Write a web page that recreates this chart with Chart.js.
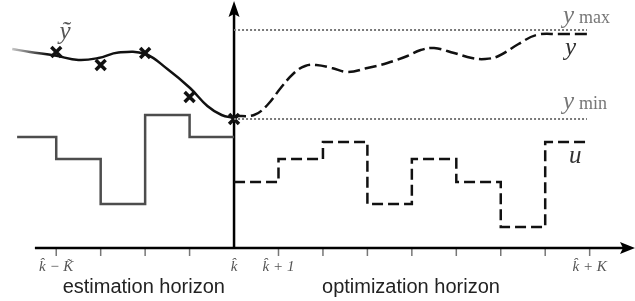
<!DOCTYPE html>
<html>
<head>
<meta charset="utf-8">
<script src="https://cdn.jsdelivr.net/npm/chart.js@4.4.1/dist/chart.umd.min.js"></script>
<style>
  html, body { margin: 0; padding: 0; background: #fff; }
  #mheChart { display: block; }
</style>
</head>
<body>
<canvas id="mheChart" width="635" height="301"></canvas>
<script>
// time steps on the horizontal axis (0 = current step k)
const xTicks = [-4, -3, -2, -1, 0, 1, 2, 3, 4, 5, 6, 7, 8];
const tickLabels = ["k\u0302 \u2212 K\u0303", "", "", "", "k\u0302", "k\u0302 + 1", "", "", "", "", "", "", "k\u0302 + K"];

// estimated output (solid curve) over the estimation horizon
const pastX = [-4.99, -4.59, -4.03, -3.5, -3.05, -2.6, -2.0, -1.5, -0.99, -0.6, -0.28, 0];
const pastY = [19.9, 19.6, 19.25, 18.8, 19.0, 19.55, 19.4, 17.9, 16.0, 14.2, 13.3, 13.0];

// measurements y~
const measX = [-4, -3, -2, -1, 0];
const measY = [19.6, 18.3, 19.5, 15.1, 12.9];

// predicted output (dashed curve) over the optimization horizon
const predX = [0, 0.45, 0.75, 1.05, 1.35, 1.6, 1.85, 2.2, 2.55, 3.0, 3.45, 3.9, 4.2, 4.5, 4.95, 5.35, 5.65, 5.95, 6.4, 6.8, 7.3, 7.94];
const predY = [13.2, 13.3, 14.3, 16.0, 17.5, 18.2, 18.3, 18.0, 17.6, 18.0, 18.5, 19.2, 19.8, 20.0, 19.5, 19.0, 18.9, 19.2, 20.4, 21.3, 21.4, 21.4];

// input u: past (applied) and planned
const uPastX = [-4.88, -4, -3, -2, -1, 0];
const uPastVal = [11.1, 8.9, 4.4, 13.3, 11.1, 11.1];
const uPlanX = [0, 1, 2, 3, 4, 5, 6, 7, 8];
const uPlanVal = [6.6, 8.9, 10.6, 4.4, 8.9, 6.6, 2.1, 10.6, 10.6];

// output bounds
const yMax = 21.8;
const yMin = 12.9;
const boundX = [0, 7.94];

function toPoints(xs, ys) {
  return xs.map((x, i) => ({ x: x, y: ys[i] }));
}

const axesPlugin = {
  id: "axesPlugin",
  beforeDatasetsDraw(chart) {
    const ctx = chart.ctx;
    const xs = chart.scales.x;
    const ys = chart.scales.y;
    const x0 = xs.getPixelForValue(0);
    const y0 = ys.getPixelForValue(0);
    const left = xs.getPixelForValue(-4.48);
    const right = xs.right;

    ctx.save();
    // tick marks
    ctx.strokeStyle = "#777";
    ctx.lineWidth = 1.5;
    xTicks.forEach(t => {
      if (t === 0) return;
      const px = xs.getPixelForValue(t);
      ctx.beginPath();
      ctx.moveTo(px, y0);
      ctx.lineTo(px, y0 + 8);
      ctx.stroke();
    });

    // axes lines
    ctx.strokeStyle = "#000";
    ctx.fillStyle = "#000";
    ctx.lineWidth = 2.5;
    ctx.beginPath();
    ctx.moveTo(left, y0);
    ctx.lineTo(right - 10, y0);
    ctx.moveTo(x0, y0 + 1);
    ctx.lineTo(x0, ys.top + 12);
    ctx.stroke();

    // arrow heads
    ctx.beginPath();
    ctx.moveTo(right, y0);
    ctx.lineTo(right - 15, y0 - 6);
    ctx.lineTo(right - 12, y0);
    ctx.lineTo(right - 15, y0 + 6);
    ctx.closePath();
    ctx.fill();
    ctx.beginPath();
    ctx.moveTo(x0, ys.top + 1);
    ctx.lineTo(x0 - 5.5, ys.top + 17);
    ctx.lineTo(x0, ys.top + 14);
    ctx.lineTo(x0 + 5.5, ys.top + 17);
    ctx.closePath();
    ctx.fill();
    ctx.restore();
  },
  afterDraw(chart) {
    const ctx = chart.ctx;
    const xs = chart.scales.x;
    const ys = chart.scales.y;
    const y0 = ys.getPixelForValue(0);

    ctx.save();
    ctx.textBaseline = "alphabetic";

    // tick labels
    ctx.fillStyle = "#555";
    ctx.font = "italic 15px 'Liberation Serif', serif";
    ctx.textAlign = "center";
    xTicks.forEach((t, i) => {
      if (tickLabels[i]) {
        ctx.fillText(tickLabels[i], xs.getPixelForValue(t), y0 + 23);
      }
    });

    // horizon captions
    ctx.fillStyle = "#222";
    ctx.font = "20px 'Liberation Sans', Arial, sans-serif";
    ctx.fillText("estimation horizon", xs.getPixelForValue(-2.03), y0 + 45);
    ctx.fillText("optimization horizon", xs.getPixelForValue(3.98), y0 + 45);

    // math labels
    ctx.textAlign = "left";
    const lx = xs.getPixelForValue(7.4);
    ctx.fillStyle = "#777";
    ctx.font = "italic 25px 'Liberation Serif', serif";
    ctx.fillText("y", lx, ys.getPixelForValue(yMax) - 7);
    ctx.fillText("y", lx, ys.getPixelForValue(yMin) - 10);
    ctx.font = "18px 'Liberation Serif', serif";
    ctx.fillText("max", lx + 16, ys.getPixelForValue(yMax) - 7);
    ctx.fillText("min", lx + 16, ys.getPixelForValue(yMin) - 10);

    ctx.fillStyle = "#333";
    ctx.font = "italic 25px 'Liberation Serif', serif";
    ctx.fillText("y", lx + 2, ys.getPixelForValue(yMax) + 25);
    ctx.fillText("u", lx + 6, ys.getPixelForValue(10.6) + 21);

    ctx.fillStyle = "#555";
    ctx.textAlign = "center";
    ctx.fillText("\u1EF9", xs.getPixelForValue(-3.8), ys.getPixelForValue(19.6) - 13);
    ctx.restore();
  }
};

document.addEventListener("DOMContentLoaded", function () {
  const canvas = document.getElementById("mheChart");

  const fadeIn = function (context) {
    const chart = context.chart;
    if (!chart.chartArea) return "#111";
    const xs = chart.scales.x;
    const g = chart.ctx.createLinearGradient(xs.getPixelForValue(-5), 0, xs.getPixelForValue(-4.2), 0);
    g.addColorStop(0, "#c8c8c8");
    g.addColorStop(1, "#111");
    return g;
  };

  new Chart(canvas, {
    type: "line",
    data: {
      datasets: [
        {
          label: "y_max",
          data: toPoints(boundX, [yMax, yMax]),
          borderColor: "#7a7a7a",
          borderWidth: 2,
          borderDash: [2, 2],
          pointRadius: 0
        },
        {
          label: "y_min",
          data: toPoints(boundX, [yMin, yMin]),
          borderColor: "#7a7a7a",
          borderWidth: 2,
          borderDash: [2, 2],
          pointRadius: 0
        },
        {
          label: "u past",
          data: toPoints(uPastX, uPastVal),
          borderColor: "#4d4d4d",
          borderWidth: 2.5,
          stepped: "before",
          pointRadius: 0
        },
        {
          label: "u plan",
          data: toPoints(uPlanX, uPlanVal),
          borderColor: "#111",
          borderWidth: 2.5,
          borderDash: [11, 5],
          stepped: "before",
          pointRadius: 0
        },
        {
          label: "y estimate",
          data: toPoints(pastX, pastY),
          borderColor: fadeIn,
          borderWidth: 2.5,
          tension: 0.4,
          pointRadius: 0
        },
        {
          label: "y prediction",
          data: toPoints(predX, predY),
          borderColor: "#111",
          borderWidth: 2.5,
          borderDash: [12, 5],
          tension: 0.4,
          pointRadius: 0
        },
        {
          label: "measurements",
          data: toPoints(measX, measY),
          showLine: false,
          pointStyle: "crossRot",
          pointRadius: 7,
          borderWidth: 3.5,
          pointBorderWidth: 3.5,
          borderColor: "#111",
          pointBorderColor: "#111"
        }
      ]
    },
    options: {
      responsive: false,
      animation: false,
      devicePixelRatio: 1,
      layout: { padding: 0, autoPadding: false },
      plugins: {
        legend: { display: false },
        tooltip: { enabled: false }
      },
      scales: {
        x: { type: "linear", min: -5.265, max: 9.02, display: false },
        y: { type: "linear", min: -5.3, max: 24.8, display: false }
      }
    },
    plugins: [axesPlugin]
  });
});
</script>
</body>
</html>
